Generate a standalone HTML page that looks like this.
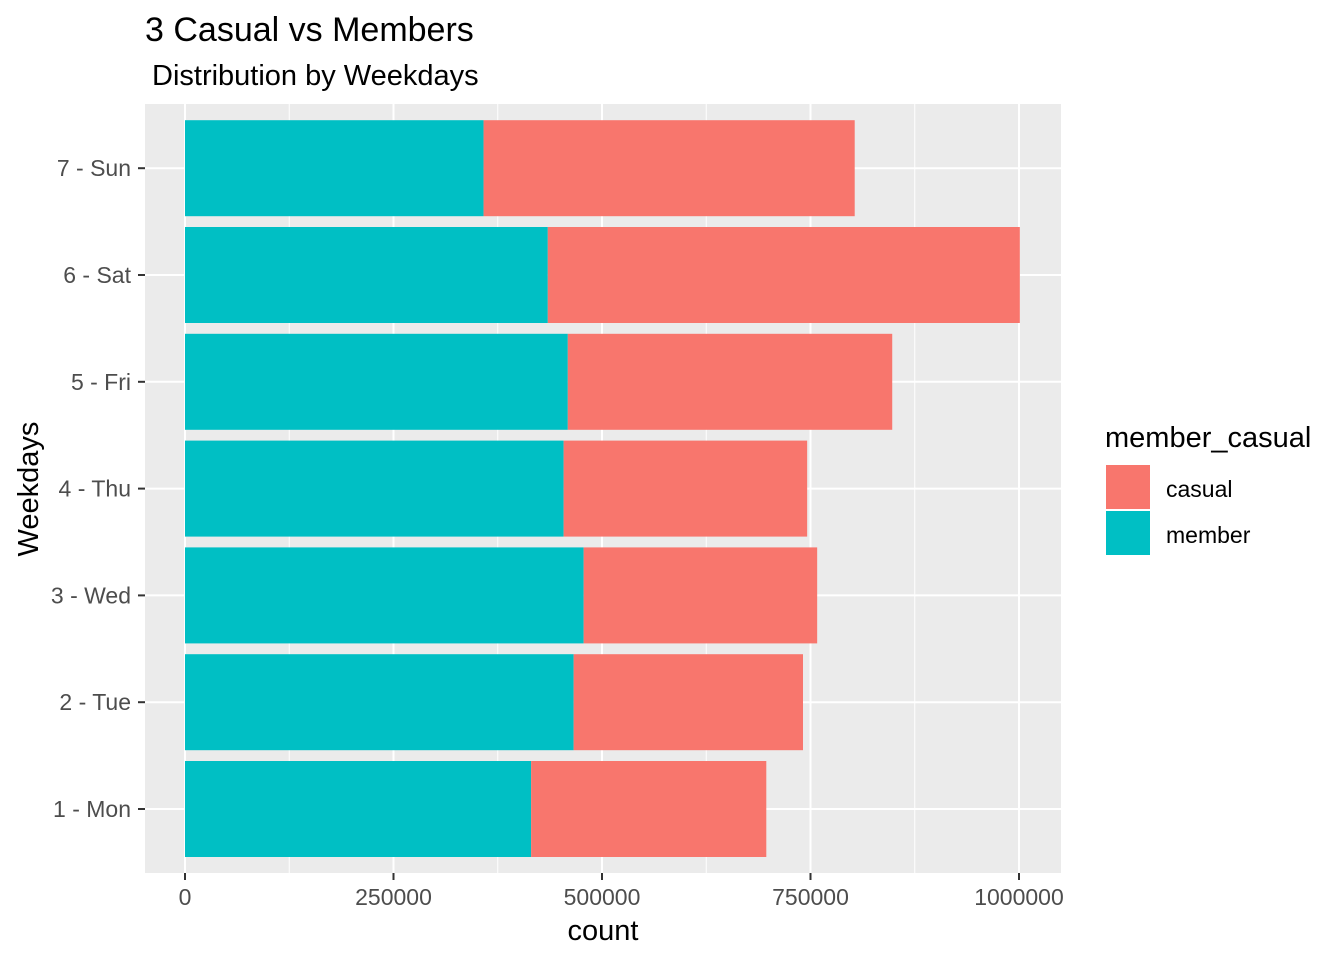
<!DOCTYPE html>
<html><head><meta charset="utf-8"><style>
body{margin:0;background:#fff;font-family:"Liberation Sans",sans-serif}
</style></head><body>
<svg id="chart" width="1344" height="960" xmlns="http://www.w3.org/2000/svg" font-family="Liberation Sans, sans-serif">
<text x="145" y="41" font-size="34">3 Casual vs Members</text>
<text x="152" y="85" font-size="29">Distribution by Weekdays</text>
<rect x="145" y="104" width="916" height="769" fill="#ebebeb"/>
<g id="grid"></g><g id="bars"></g><g id="axes"></g>
<text x="603" y="940" font-size="29" text-anchor="middle">count</text>
<text transform="translate(38,489) rotate(-90)" font-size="29" text-anchor="middle">Weekdays</text>
<text x="1105" y="447" font-size="29">member_casual</text>
<g><rect x="1106" y="465" width="44" height="44" fill="#f8766d"/><text x="1166" y="497" font-size="23">casual</text></g>
<g><rect x="1106" y="511" width="44" height="44" fill="#00bfc4"/><text x="1166" y="543" font-size="23">member</text></g>
</svg>
<script>
const categories=["1 - Mon","2 - Tue","3 - Wed","4 - Thu","5 - Fri","6 - Sat","7 - Sun"];
const memberValues=[415000,466000,478000,454000,459000,435000,358000];
const casualValues=[282000,275000,280000,292000,389000,566000,445000];
const xTicks=[0,250000,500000,750000,1000000];
const NS="http://www.w3.org/2000/svg";
function x(v){return 185+v*834/1e6;}
function yc(i){return 809-i*106.8;}
const bw=96;
function mk(tag,attrs,parent){const e=document.createElementNS(NS,tag);for(const k in attrs)e.setAttribute(k,attrs[k]);document.getElementById(parent).appendChild(e);return e;}
for(let i=0;i<xTicks.length-1;i++){const m=(xTicks[i]+xTicks[i+1])/2;
const g=mk("line",{x1:x(m),x2:x(m),y1:104,y2:873,stroke:"#fff","stroke-width":1},"grid");

}
xTicks.forEach(t=>{
const g=mk("line",{x1:x(t),x2:x(t),y1:104,y2:873,stroke:"#fff","stroke-width":2},"grid");


const tk=mk("line",{x1:x(t),x2:x(t),y1:873,y2:880,stroke:"#333","stroke-width":2},"axes");


const l=mk("text",{x:x(t),y:905,"font-size":23,fill:"#4d4d4d","text-anchor":"middle"},"axes");l.textContent=t;

});
categories.forEach((c,i)=>{const y=yc(i);
const g=mk("line",{x1:145,x2:1061,y1:y,y2:y,stroke:"#fff","stroke-width":2},"grid");


const tk=mk("line",{x1:138,x2:145,y1:y,y2:y,stroke:"#333","stroke-width":2},"axes");


const l=mk("text",{x:131,y:y+8,"font-size":23,fill:"#4d4d4d","text-anchor":"end"},"axes");l.textContent=c;


const m=mk("rect",{x:x(0),y:y-bw/2,width:x(memberValues[i])-x(0),height:bw,fill:"#00bfc4"},"bars");


const cs=mk("rect",{x:x(memberValues[i]),y:y-bw/2,width:x(memberValues[i]+casualValues[i])-x(memberValues[i]),height:bw,fill:"#f8766d"},"bars");

});
</script>
</body></html>
